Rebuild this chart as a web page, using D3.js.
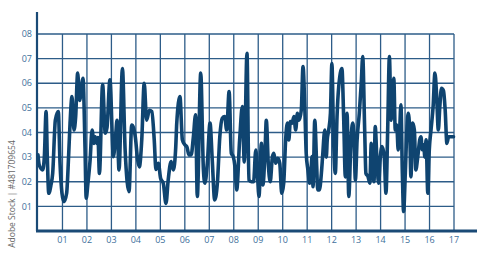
<!DOCTYPE html>
<html>
<head>
<meta charset="utf-8">
<script src="https://cdn.jsdelivr.net/npm/d3@7"></script>
<style>
  body { margin: 0; background: #fff; }
  text { font-family: "Open Sans", sans-serif; }
</style>
</head>
<body>
<div id="chart"></div>
<script>

// data
const xValues = [0.00, 0.05, 0.19, 0.26, 0.33, 0.38, 0.44, 0.53, 0.60, 0.71, 0.83, 0.90, 0.98, 1.06, 1.17, 1.25, 1.31, 1.39, 1.47, 1.54,
    1.62, 1.70, 1.84, 1.92, 1.97, 2.04, 2.13, 2.21, 2.29, 2.34, 2.40, 2.45, 2.51, 2.64, 2.75, 2.82, 2.94, 3.08, 3.18, 3.23,
    3.31, 3.45, 3.56, 3.72, 3.83, 3.91, 3.98, 4.07, 4.14, 4.24, 4.34, 4.44, 4.55, 4.65, 4.75, 4.82, 4.92, 5.01, 5.12, 5.23,
    5.32, 5.44, 5.53, 5.63, 5.67, 5.80, 5.90, 6.00, 6.08, 6.17, 6.26, 6.35, 6.44, 6.51, 6.65, 6.76, 6.82, 6.92, 7.03, 7.12,
    7.22, 7.33, 7.43, 7.53, 7.63, 7.71, 7.81, 7.90, 7.98, 8.05, 8.12, 8.24, 8.35, 8.43, 8.54, 8.62, 8.72, 8.81, 8.90, 8.96,
    9.03, 9.13, 9.19, 9.28, 9.33, 9.41, 9.49, 9.58, 9.64, 9.71, 9.80, 9.88, 9.96, 10.04, 10.12, 10.19, 10.25, 10.31, 10.38, 10.46,
    10.53, 10.60, 10.67, 10.76, 10.83, 10.91, 10.96, 11.03, 11.10, 11.16, 11.20, 11.24, 11.31, 11.39, 11.43, 11.50, 11.58, 11.63, 11.72, 11.78,
    11.82, 11.88, 11.95, 12.01, 12.08, 12.15, 12.22, 12.29, 12.42, 12.49, 12.56, 12.63, 12.70, 12.79, 12.86, 12.91, 12.97, 13.04, 13.13, 13.21,
    13.27, 13.35, 13.40, 13.49, 13.56, 13.62, 13.68, 13.73, 13.78, 13.85, 13.92, 13.99, 14.06, 14.15, 14.22, 14.29, 14.36, 14.43, 14.48, 14.54,
    14.60, 14.66, 14.72, 14.78, 14.83, 14.89, 14.94, 15.01, 15.08, 15.13, 15.19, 15.24, 15.31, 15.38, 15.44, 15.52, 15.60, 15.65, 15.70, 15.76,
    15.81, 15.86, 15.93, 15.99, 16.06, 16.15, 16.22, 16.29, 16.36, 16.42, 16.49, 16.57, 16.64, 16.71, 16.78, 16.87, 16.98]

const yValues = [3.09, 2.68, 2.48, 3.02, 4.85, 3.02, 1.53, 1.87, 2.34, 4.51, 4.85, 2.75, 1.53, 1.19, 1.53, 3.02, 4.38, 5.46, 4.10, 4.65,
    6.41, 5.30, 6.20, 3.43, 1.33, 1.94, 2.89, 4.10, 3.56, 3.83, 3.56, 3.80, 2.34, 5.95, 3.97, 4.20, 6.14, 3.02, 3.97, 4.50,
    2.48, 6.60, 3.30, 1.60, 4.30, 4.17, 3.80, 2.90, 2.60, 3.70, 6.00, 4.50, 4.90, 4.85, 3.70, 2.50, 2.75, 2.14, 1.94, 1.12,
    2.07, 2.82, 2.48, 3.43, 4.38, 5.46, 3.70, 3.50, 3.43, 3.09, 3.09, 3.83, 4.72, 1.40, 6.41, 2.48, 1.94, 2.75, 4.38, 2.90,
    1.26, 1.94, 3.83, 4.58, 4.65, 4.10, 5.66, 3.16, 3.02, 2.60, 1.67, 3.70, 5.05, 2.80, 7.22, 2.07, 2.00, 2.00, 3.29, 2.48,
    1.40, 3.56, 1.87, 3.29, 4.50, 2.75, 2.00, 3.02, 3.16, 2.75, 2.95, 2.75, 1.53, 1.94, 3.70, 4.38, 3.70, 4.44, 4.38, 4.65,
    4.10, 4.78, 4.50, 4.92, 6.68, 4.78, 3.16, 2.48, 1.94, 2.50, 3.02, 1.80, 4.50, 2.60, 1.67, 1.67, 2.34, 3.02, 4.10, 3.00,
    3.70, 4.10, 4.78, 6.80, 3.70, 2.34, 4.65, 5.87, 6.60, 4.65, 2.20, 4.78, 1.40, 3.70, 4.38, 3.90, 2.07, 3.70, 4.78, 6.00,
    7.08, 4.10, 2.34, 2.20, 1.94, 3.56, 2.48, 2.00, 4.24, 2.89, 1.94, 3.02, 3.43, 3.02, 1.53, 4.10, 7.08, 4.50, 5.46, 6.20,
    4.10, 4.30, 3.29, 4.10, 5.12, 2.34, 0.79, 2.34, 4.24, 4.78, 4.10, 2.20, 4.38, 4.10, 2.48, 3.02, 3.70, 3.83, 3.30, 3.50,
    3.00, 3.70, 1.53, 3.29, 4.10, 5.10, 6.41, 5.50, 4.10, 5.05, 5.80, 5.70, 4.90, 3.56, 3.83, 3.83, 3.83]

const xTicks = d3.range(1, 18)
const yTicks = d3.range(1, 9)
const pad = (d) => String(d).padStart(2, '0')

const width = 500
const height = 255
const mainColor = '#0f4470'
const gridColor = '#2d5c88'
const labelColor = '#40709b'

const svg = d3.select('#chart')
    .append('svg')
    .attr('width', width)
    .attr('height', height)

const xScale = d3.scaleLinear()
    .domain([0, 17])
    .range([38, 454])

const yScale = d3.scaleLinear()
    .domain([0, 8])
    .range([231, 34])

// grid
const grid = svg.append('g')

grid.selectAll('.hgrid')
    .data(yTicks)
    .join('line')
    .attr('x1', xScale(0))
    .attr('x2', xScale(17))
    .attr('y1', (d) => yScale(d))
    .attr('y2', (d) => yScale(d))
    .attr('stroke', gridColor)
    .attr('stroke-width', 1.3)

grid.selectAll('.vgrid')
    .data(xTicks)
    .join('line')
    .attr('x1', (d) => xScale(d))
    .attr('x2', (d) => xScale(d))
    .attr('y1', yScale(0))
    .attr('y2', yScale(8))
    .attr('stroke', gridColor)
    .attr('stroke-width', 1.3)

// axes lines
svg.append('line')
    .attr('x1', xScale(0) - 1)
    .attr('x2', xScale(0) - 1)
    .attr('y1', 12)
    .attr('y2', yScale(0))
    .attr('stroke', '#1a4a76')
    .attr('stroke-width', 2.2)

svg.append('line')
    .attr('x1', xScale(0) - 2)
    .attr('x2', 477)
    .attr('y1', yScale(0))
    .attr('y2', yScale(0))
    .attr('stroke', '#1a4a76')
    .attr('stroke-width', 2.8)

// tick labels
svg.append('g')
    .selectAll('text')
    .data(yTicks)
    .join('text')
    .attr('x', 32)
    .attr('y', (d) => yScale(d))
    .attr('dy', '0.35em')
    .attr('text-anchor', 'end')
    .attr('font-size', 9)
    .attr('fill', labelColor)
    .text(pad)

svg.append('g')
    .selectAll('text')
    .data(xTicks)
    .join('text')
    .attr('x', (d) => xScale(d))
    .attr('y', 243)
    .attr('text-anchor', 'middle')
    .attr('font-size', 9)
    .attr('fill', labelColor)
    .text(pad)

// the series
const points = xValues.map((x, i) => [x, yValues[i]])

const line = d3.line()
    .x((d) => xScale(d[0]))
    .y((d) => yScale(d[1]))
    .curve(d3.curveMonotoneX)

svg.append('path')
    .datum(points)
    .attr('d', line)
    .attr('fill', 'none')
    .attr('stroke', mainColor)
    .attr('stroke-width', 3.6)
    .attr('stroke-linejoin', 'round')
    .attr('stroke-linecap', 'round')

// stock id on the side
svg.append('text')
    .attr('transform', 'translate(15,194) rotate(-90)')
    .attr('text-anchor', 'middle')
    .attr('font-size', 8.5)
    .attr('fill', '#666')
    .text('Adobe Stock | #481709654')

</script>
</body>
</html>
